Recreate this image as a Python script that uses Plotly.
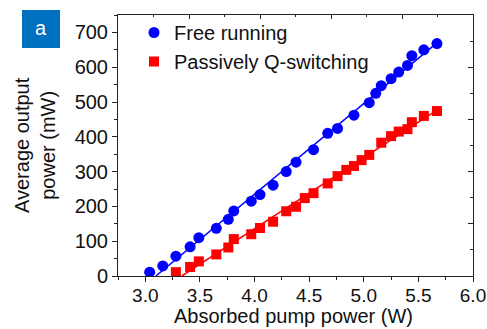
import numpy as np
import plotly.graph_objects as go

# Absorbed pump power (W) and average output power (mW)
free_pump = [3.04, 3.16, 3.28, 3.41, 3.49, 3.65, 3.76, 3.81, 3.97, 4.05, 4.17, 4.29, 4.38,
             4.54, 4.67, 4.76, 4.91, 5.05, 5.11, 5.16, 5.25, 5.32, 5.40, 5.44, 5.55, 5.67]
free_power = [11, 29, 57, 84, 110, 137, 163, 187, 215, 234, 261, 300, 327,
              363, 410, 424, 462, 498, 525, 547, 567, 586, 605, 633, 650, 668]

qs_pump = [3.28, 3.41, 3.49, 3.65, 3.76, 3.81, 3.97, 4.05, 4.17, 4.29, 4.38, 4.46, 4.54,
           4.67, 4.76, 4.84, 4.91, 4.98, 5.05, 5.16, 5.25, 5.32, 5.40, 5.44, 5.55, 5.67]
qs_power = [11, 26, 42, 62, 82, 106, 120, 138, 156, 186, 199, 224, 238,
            266, 287, 305, 316, 333, 348, 383, 402, 415, 422, 442, 460, 474]

x_ticks = [3.0, 3.5, 4.0, 4.5, 5.0, 5.5, 6.0]

BLUE = "#0000FF"
RED = "#FF0000"
INK = "#111111"
FONT = "Arial, Liberation Sans, sans-serif"
FS = 20

# plot area in pixels
L, R, T, B = 118, 14, 15, 53
PW, PH = 487 - L - R, 329 - T - B


def fit_line(x, y):
    """Least-squares line from the threshold (zero output) to the last point."""
    k, b = np.polyfit(x, y, 1)
    x0 = -b / k
    xs = np.array([x0, max(x)])
    return xs, k * xs + b


fig = go.Figure()

for xs, ys, color in [(free_pump, free_power, BLUE), (qs_pump, qs_power, RED)]:
    lx, ly = fit_line(xs, ys)
    fig.add_trace(go.Scatter(x=lx, y=ly, mode="lines",
                             line=dict(color=color, width=1.5),
                             showlegend=False, hoverinfo="skip"))

fig.add_trace(go.Scatter(x=free_pump, y=free_power, mode="markers", name="Free running",
                         marker=dict(symbol="circle", size=11, color=BLUE)))
fig.add_trace(go.Scatter(x=qs_pump, y=qs_power, mode="markers", name="Passively Q-switching",
                         marker=dict(symbol="square", size=10, color=RED)))

# empty trace that carries the mirrored top/right frame axes
fig.add_trace(go.Scatter(x=[], y=[], xaxis="x2", yaxis="y2", showlegend=False,
                         hoverinfo="skip"))

axis_common = dict(showline=True, linecolor="#222222", linewidth=1,
                   tickcolor="#222222", showgrid=False, zeroline=False,
                   automargin=False)

fig.update_layout(
    width=487, height=329,
    margin=dict(l=L, r=R, t=T, b=B),
    paper_bgcolor="white", plot_bgcolor="white",
    font=dict(family=FONT, size=FS, color=INK),
    xaxis=dict(range=[2.75, 6.0], tickvals=x_ticks, tickformat=".1f",
               ticks="outside", ticklen=5, tickfont=dict(size=19),
               ticklabelstandoff=-3,
               minor=dict(dtick=0.25, tick0=3.0, ticks="outside", ticklen=3,
                          tickcolor="#222222"),
               **axis_common),
    yaxis=dict(range=[0, 750], dtick=100, tick0=0,
               ticks="outside", ticklen=5, tickfont=dict(size=FS),
               minor=dict(dtick=50, tick0=0, ticks="outside", ticklen=3,
                          tickcolor="#222222"),
               **axis_common),
    xaxis2=dict(overlaying="x", side="top", anchor="y2", range=[0, 5], dtick=1,
                ticks="inside", ticklen=4,
                minor=dict(dtick=0.5, ticks="inside", ticklen=2, tickcolor="#222222"),
                showticklabels=False, **axis_common),
    yaxis2=dict(overlaying="y", side="right", anchor="x2", range=[0, 5], dtick=1,
                ticks="inside", ticklen=5,
                minor=dict(dtick=0.5, ticks="inside", ticklen=3, tickcolor="#222222"),
                showticklabels=False, **axis_common),
    legend=dict(x=16 / PW, y=1 + 2 / PH, xanchor="left", yanchor="top",
                bgcolor="rgba(0,0,0,0)", font=dict(size=FS),
                itemwidth=30, tracegroupgap=0),
    showlegend=True,
)

# axis titles
fig.add_annotation(text="Absorbed pump power (W)", xref="paper", yref="paper",
                   x=(293 - L) / PW, y=-(328 - T - PH) / PH,
                   showarrow=False, xanchor="center", yanchor="bottom", borderpad=0,
                   font=dict(size=FS, family=FONT, color=INK))
fig.add_annotation(text="Average output<br>power (mW)", xref="paper", yref="paper",
                   x=(35 - L) / PW, y=1 - (145 - T) / PH, textangle=-90,
                   showarrow=False, xanchor="center", yanchor="middle",
                   font=dict(size=FS, family=FONT, color=INK))

# panel label
fig.add_shape(type="rect", xref="paper", yref="paper",
              x0=(22 - L) / PW, x1=(60 - L) / PW,
              y0=1 - (10 - T) / PH, y1=1 - (48 - T) / PH,
              fillcolor="#0070C0", line=dict(width=0))
fig.add_annotation(text="a", xref="paper", yref="paper",
                   x=(41 - L) / PW, y=1 - (28 - T) / PH,
                   showarrow=False, font=dict(color="white", size=FS, family=FONT),
                   xanchor="center", yanchor="middle")

fig.write_html("out.html")
